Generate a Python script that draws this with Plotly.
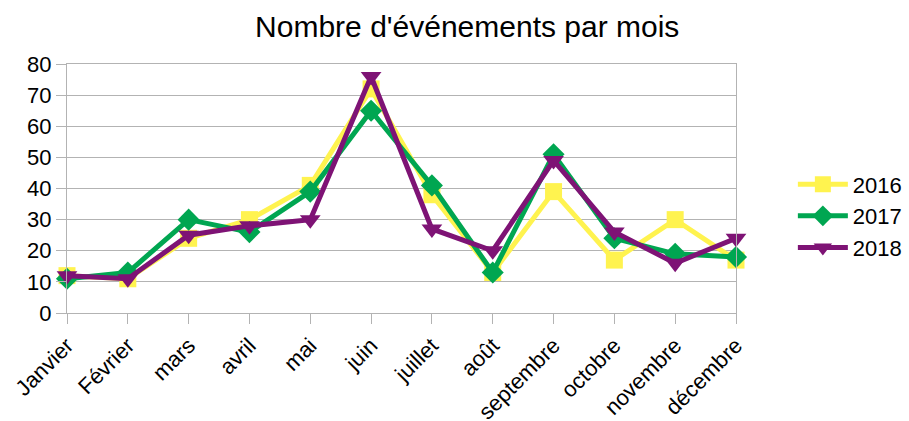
import plotly.graph_objects as go

months = ["Janvier", "Février", "mars", "avril", "mai", "juin", "juillet",
          "août", "septembre", "octobre", "novembre", "décembre"]
y2016 = [12, 11, 24, 30, 41, 72, 38, 13, 39, 17, 30, 17]
y2017 = [11, 13, 30, 26, 39, 65, 41, 13, 51, 24, 19, 18]
y2018 = [12, 11, 25, 28, 30, 76, 27, 20, 49, 26, 16, 24]

series = [
    ("2016", y2016, "#FFF34F", "square", 17),
    ("2017", y2017, "#00A651", "diamond", 17),
    ("2018", y2018, "#7E1375", "triangle-down", 18),
]

fig = go.Figure()
for name, vals, color, sym, size in series:
    fig.add_trace(go.Scatter(
        x=months, y=vals, name=name, mode="lines+markers",
        line=dict(color=color, width=5),
        marker=dict(symbol=sym, size=size, color=color),
        cliponaxis=False,
    ))

fig.update_layout(
    width=909, height=421,
    margin=dict(l=67, r=173, t=64, b=108, autoexpand=False),
    paper_bgcolor="white", plot_bgcolor="white",
    font=dict(family="Liberation Sans", size=22, color="black"),
    title=dict(text="Nombre d'événements par mois", x=0.514, xanchor="center",
               y=0.936, yanchor="middle", font=dict(size=30)),
    legend=dict(x=1.085, xanchor="left", y=0.39, yanchor="middle",
                font=dict(size=22), itemwidth=50, tracegroupgap=0,
                bgcolor="rgba(0,0,0,0)"),
    showlegend=True,
)
fig.update_xaxes(
    type="category", range=[0, 11], showgrid=False, automargin=False,
    showline=True, linecolor="#b3b3b3", linewidth=1, mirror=True,
    ticks="outside", ticklen=10, tickcolor="#b3b3b3",
    tickangle=-45, tickfont=dict(size=22),
)
fig.update_yaxes(
    range=[0, 80], dtick=10, showgrid=True, gridcolor="#b3b3b3", gridwidth=1,
    zeroline=False, showline=True, linecolor="#b3b3b3", linewidth=1, mirror=True,
    automargin=False,
    ticks="outside", ticklen=10, tickcolor="#b3b3b3", tickfont=dict(size=22),
)

fig.write_html("out.html", config={"displayModeBar": False},
               post_script="document.body.style.margin='0';document.body.style.overflow='hidden';")
